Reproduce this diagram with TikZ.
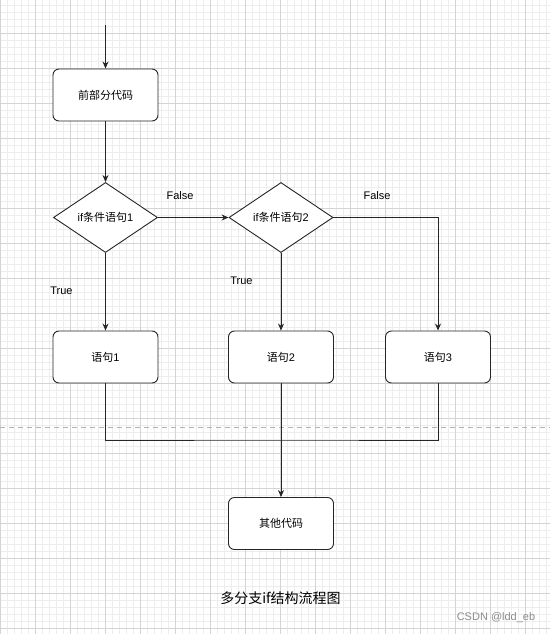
\documentclass[tikz,border=0pt]{standalone}
\usepackage{fontspec}
\setmainfont{Liberation Sans}
\newfontfamily\cjk{Noto Sans CJK SC}
\usetikzlibrary{shapes.geometric,arrows.meta}
\tikzset{
  box/.style={draw=black!85,line width=0.9pt,rounded corners=6pt,minimum width=105pt,minimum height=52pt,inner sep=0pt,font=\fontsize{11}{13}\selectfont,fill=white},
  dia/.style={draw=black!85,line width=0.9pt,diamond,minimum width=104pt,minimum height=70pt,inner sep=0pt,font=\fontsize{11}{13}\selectfont,fill=white},
  arr/.style={draw=black!85,line width=0.9pt,-{Stealth[length=7pt,width=6pt]}},
  ln/.style={draw=black!85,line width=0.9pt},
  lbl/.style={font=\fontsize{11}{13}\selectfont,inner sep=0pt},
}
\begin{document}
\begin{tikzpicture}[x=1pt,y=-1pt]
\useasboundingbox (0,0) rectangle (550,634);
\fill[white] (0,0) rectangle (550,634);
% minor grid
\foreach \i in {0,...,79} {\draw[black!7,line width=0.6pt] (0.3+7*\i,0) -- (0.3+7*\i,634);}
\foreach \i in {0,...,91} {\draw[black!7,line width=0.6pt] (0,5.3+7*\i) -- (550,5.3+7*\i);}
% major grid
\foreach \i in {0,...,15} {\draw[black!17,line width=0.7pt] (0.3+35*\i,0) -- (0.3+35*\i,634);}
\foreach \i in {0,...,18} {\draw[black!17,line width=0.7pt] (0,-1.7+35*\i) -- (550,-1.7+35*\i);}
% dashed separator
\coordinate (dl) at (0,427);
\coordinate (dr) at (550,427);
\draw[black!30,dashed,dash pattern=on 5pt off 4pt,line width=0.7pt] (dl) -- (dr);

\node[box] (b0) at (105.5,95) {\cjk 前部分代码};
\node[dia] (d1) at (105.5,217.5) {if{\cjk 条件语句}1};
\node[dia] (d2) at (281,217.5) {if{\cjk 条件语句}2};
\node[box] (b1) at (105.5,357) {{\cjk 语句}1};
\node[box] (b2) at (281,357) {{\cjk 语句}2};
\node[box] (b3) at (438,357) {{\cjk 语句}3};
\node[box] (b4) at (281,523.5) {\cjk 其他代码};

\coordinate (start) at (105.5,25);
\coordinate (m) at (281,440);

\draw[arr] (start) -- (b0);
\draw[arr] (b0) -- (d1);
\draw[arr] (d1.east) -- (d2.west);
\draw[arr] (d2.east) -| (b3.north);
\draw[arr] (d1.south) -- (b1.north);
\draw[arr] (d2.south) -- (b2.north);
\draw[ln] (b1.south) |- (m) -| (b3.south);
\draw[ln] (b2.south) -- (m);
\draw[arr] (m) -- (b4.north);

\node[lbl] (f1) at (180,196) {False};
\node[lbl] (f2) at (377,196) {False};
\node[lbl] (t1) at (61.5,291) {True};
\node[lbl] (t2) at (241.5,281) {True};

\node[inner sep=0pt,font=\fontsize{14}{16}\selectfont] (cap) at (280.5,598) {\cjk 多分支if结构流程图};
\node[inner sep=0pt,font=\fontsize{11}{13}\selectfont,text=black!45] (wm) at (496,618) {CSDN @ldd\_eb};
\end{tikzpicture}
\end{document}
